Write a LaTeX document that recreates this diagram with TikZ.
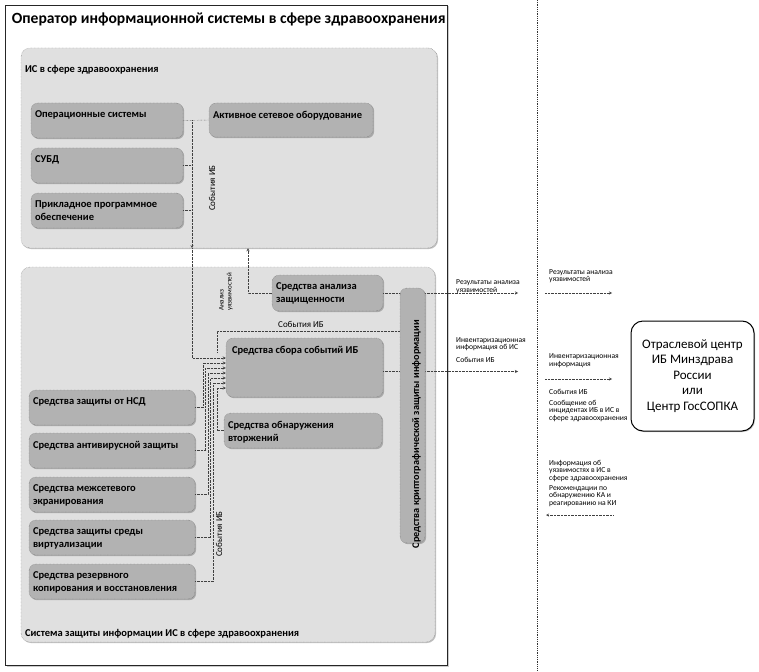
\documentclass[tikz,border=0pt]{standalone}
\usepackage{fontspec}
\setmainfont{Carlito}
\usetikzlibrary{shadows}

\tikzset{
  frame/.style={draw=black!85, line width=0.7pt, fill=white, inner sep=0pt,
    drop shadow={shadow xshift=1.5pt, shadow yshift=-1.5pt, fill=black!40}},
  area/.style={draw=black!55, densely dotted, fill=black!12, rounded corners=9pt, inner sep=0pt,
    drop shadow={shadow xshift=1pt, shadow yshift=-1pt, fill=black!50}},
  unit/.style={draw=black!60, densely dotted, fill=black!30, rounded corners=7pt, inner sep=0pt,
    drop shadow={shadow xshift=1.2pt, shadow yshift=-1.2pt, fill=black!55}},
  intext/.style={inner sep=0pt, align=left, anchor=north west, xshift=4pt, yshift=-8pt,
    font=\fontsize{10.5}{13}\selectfont\bfseries},
  note/.style={inner sep=0pt, align=left, anchor=west, font=\fontsize{7.6}{7.6}\selectfont},
  evnote/.style={inner sep=0pt, align=left, font=\fontsize{9}{9.5}\selectfont},
  evline/.style={densely dotted, black!75, ->, >=stealth},
  hub/.style={draw=black, line width=1pt, rounded corners=12pt, fill=white, align=center,
    font=\fontsize{13}{15.5}\selectfont, drop shadow={shadow xshift=1pt, shadow yshift=-1pt, fill=black!50}}
}

\begin{document}
\begin{tikzpicture}[x=1pt, y=-1pt]
\useasboundingbox (0,0) rectangle (759,671);

% operator frame
\node[frame, minimum width=442, minimum height=660,
  label={[intext, font=\fontsize{15.6}{17}\selectfont\bfseries, xshift=3pt, yshift=-0.5pt]north west:Оператор информационной системы в сфере здравоохранения}] (oper) at (226,335) {};

% IS
\node[area, minimum width=416, minimum height=200,
  label={[intext, yshift=-9pt]north west:ИС в сфере здравоохранения}] (isbox) at (229,148) {};
\node[unit, minimum width=152, minimum height=35, label={[intext]north west:Операционные системы}] (os) at (107,120.5) {};
\node[unit, minimum width=152, minimum height=35, label={[intext]north west:СУБД}] (dbms) at (107,165.5) {};
\node[unit, minimum width=152, minimum height=35, label={[intext]north west:{Прикладное программное\\обеспечение}}] (app) at (107,210.5) {};
\node[unit, minimum width=164, minimum height=34, label={[intext]north west:Активное сетевое оборудование}] (net) at (291,120) {};

% SZI
\node[area, minimum width=414, minimum height=375,
  label={[intext, anchor=south west, yshift=12pt]south west:Система защиты информации ИС в сфере здравоохранения}] (szi) at (228,454.5) {};
\node[unit, minimum width=111, minimum height=36, label={[intext]north west:{Средства анализа\\защищенности}}] (vuln) at (327.5,293) {};
\node[unit, minimum width=157, minimum height=59, label={[intext, xshift=2pt]north west:Средства сбора событий ИБ}] (siem) at (304.5,367.5) {};
\node[unit, minimum width=158, minimum height=35, label={[intext]north west:{Средства обнаружения\\вторжений}}] (ids) at (303,430.5) {};

\node[unit, minimum width=166, minimum height=35, label={[intext]north west:Средства защиты от НСД}] (nsd) at (112,407.5) {};
\node[unit, minimum width=166, minimum height=35, label={[intext]north west:Средства антивирусной защиты}] (av) at (112,450.5) {};
\node[unit, minimum width=166, minimum height=35, label={[intext]north west:{Средства межсетевого\\экранирования}}] (fw) at (112,494.5) {};
\node[unit, minimum width=166, minimum height=35, label={[intext]north west:{Средства защиты среды\\виртуализации}}] (virt) at (112,537.5) {};
\node[unit, minimum width=166, minimum height=35, label={[intext]north west:{Средства резервного\\копирования и восстановления}}] (backup) at (112,581.5) {};

% IS events bus
\coordinate (bus) at (192,0);
\draw[evline, -] (os.east) -- (net.west);
\draw[evline, -] (dbms.east) -- (bus |- dbms.east);
\draw[evline, -] (app.east) -- (bus |- app.east);
\draw[evline] (bus |- os.east) -- (bus |- isbox.south);
\draw[evline] (bus |- isbox.south) |- (siem.west |- 0,358);
\node[evnote, rotate=90] (ev1) at (212,188) {События ИБ};

% vulnerability scan
\draw[evline] (vuln.west) -| (isbox.south -| 248,0);
\node[evnote, rotate=90, font=\fontsize{7}{8}\selectfont] (scan) at (226,292) {Анализ\\уязвимостей};

% protection tools to siem
\foreach \b/\x/\y in {nsd/203/363, av/205.5/368, fw/208/373, virt/210.5/378, backup/213/383}
  \draw[evline] (\b.east) -| (\x,\y) -- (siem.west |- 0,\y);
\draw[evline] (ids.west) -| (217,388) -- (siem.west |- 0,388);
\node[evnote, rotate=90] (ev2) at (219,534) {События ИБ};

% outgoing
\draw[evline] (vuln.east) -- (vuln.east -| 518,0);
\draw[evline] ([yshift=-4pt]siem.east) -- ([yshift=-4pt]siem.east -| 518,0);

\node[unit, minimum width=25, minimum height=255] (crypto) at (412.5,415.5) {};
\node[intext, rotate=90, anchor=west, xshift=0pt, yshift=0pt, font=\fontsize{10.2}{11}\selectfont\bfseries] (crypto-t) at ([yshift=3pt]crypto.south) {Средства криптографической защиты информации};

\coordinate (evjoin) at (217,352);
\draw[evline, -] (evjoin) |- (crypto.west |- 0,331);
\node[evnote] (ev3) at (301,324) {События ИБ};

\node[note] (resA) at (456,286.5) {Результаты анализа\\уязвимостей};
\node[note] (invA) at (456,344) {Инвентаризационная\\информация об ИС};
\node[note] (evA) at (456,360) {События ИБ};

% divider
\coordinate (divtop) at (537,0);
\coordinate (divbot) at (537,671);
\draw[densely dotted, black!80, line width=0.8pt] (divtop) -- (divbot);

% center
\node[hub, minimum width=123, minimum height=110] (hub) at (692.5,376) {Отраслевой центр\\ИБ Минздрава\\России\\или\\Центр ГосСОПКА};

\node[note] (resB) at (549,276) {Результаты анализа\\уязвимостей};
\node[note] (invB) at (549,360.5) {Инвентаризационная\\информация};
\node[note] (evB) at (549,392) {События ИБ};
\node[note] (incB) at (549,411) {Сообщение об\\инцидентах ИБ в ИС в\\сфере здравоохранения};
\node[note] (vulB) at (549,471) {Информация об\\уязвимостях в ИС в\\сфере здравоохранения};
\node[note] (recB) at (549,496) {Рекомендации по\\обнаружению КА и\\реагированию на КИ};

\coordinate (resB-s) at (545,293);
\coordinate (resB-e) at (612,293);
\coordinate (invB-s) at (545,379);
\coordinate (invB-e) at (612,379);
\coordinate (recB-s) at (613,515);
\coordinate (recB-e) at (546,515);
\draw[evline] (resB-s) -- (resB-e);
\draw[evline] (invB-s) -- (invB-e);
\draw[evline] (recB-s) -- (recB-e);
\end{tikzpicture}
\end{document}
